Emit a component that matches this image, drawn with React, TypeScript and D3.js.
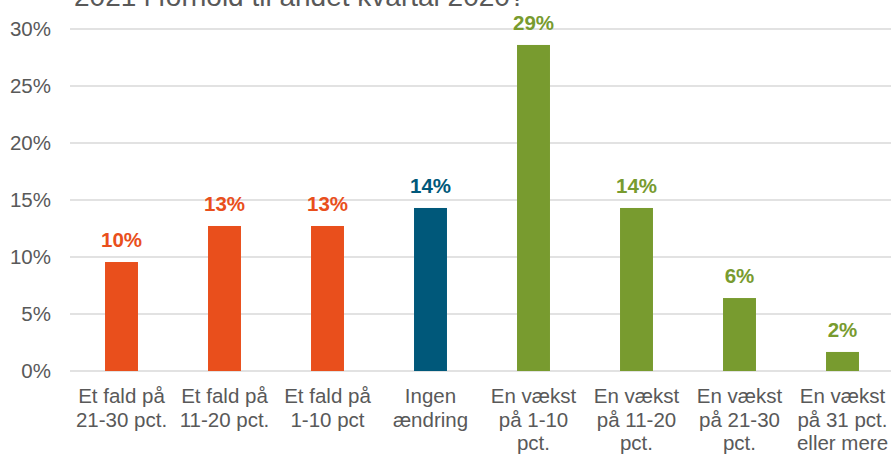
import * as d3 from "d3";

const categories = [
  ["Et fald på", "21-30 pct."],
  ["Et fald på", "11-20 pct."],
  ["Et fald på", "1-10 pct"],
  ["Ingen", "ændring"],
  ["En vækst", "på 1-10", "pct."],
  ["En vækst", "på 11-20", "pct."],
  ["En vækst", "på 21-30", "pct."],
  ["En vækst", "på 31 pct.", "eller mere"],
];
const values = [0.0956, 0.1272, 0.1272, 0.143, 0.286, 0.143, 0.064, 0.0167];
const groups = ["fald", "fald", "fald", "ingen", "vaekst", "vaekst", "vaekst", "vaekst"];
const yTicks = [0, 0.05, 0.1, 0.15, 0.2, 0.25, 0.3];
const title = "2021 i forhold til andet kvartal 2020?";

const COLORS: Record<string, string> = {
  fald: "#e94f1c",
  ingen: "#00587a",
  vaekst: "#789b2f",
};
const FONT = "'Liberation Sans', Arial, sans-serif";
const W = 891;
const H = 454;

export default function App() {
  const keys = categories.map((c, i) => `${i}`);
  const x = d3
    .scaleBand()
    .domain(keys)
    .range([70, 894])
    .paddingInner(0.68)
    .paddingOuter(0.34);
  const y = d3.scaleLinear().domain([0, 0.3]).range([371, 29]);
  const pct = d3.format(".0%");
  const tickFmt = d3.format(".0%");

  return (
    <svg
      width={W}
      height={H}
      style={{ position: "absolute", left: 0, top: 0, background: "#fff" }}
      fontFamily={FONT}
    >
      <text x={74} y={6} fontSize={28} fill="#595959">
        {title}
      </text>
      {yTicks.map((t) => (
        <g key={t}>
          <line
            x1={70}
            x2={W}
            y1={y(t)}
            y2={y(t)}
            stroke="#d9d9d9"
            strokeWidth={1.5}
          />
          <text
            x={51}
            y={y(t)}
            dy="0.35em"
            textAnchor="end"
            fontSize={20.5}
            fill="#595959"
          >
            {tickFmt(t)}
          </text>
        </g>
      ))}
      {values.map((v, i) => {
        const k = keys[i];
        const cx = x(k)! + x.bandwidth() / 2;
        const col = COLORS[groups[i]];
        return (
          <g key={k}>
            <rect
              x={x(k)}
              y={y(v)}
              width={x.bandwidth()}
              height={y(0) - y(v)}
              fill={col}
            />
            <text
              x={cx}
              y={y(v) - 15}
              textAnchor="middle"
              fontSize={20.5}
              fontWeight="bold"
              fill={col}
            >
              {pct(v)}
            </text>
            {categories[i].map((line, j) => (
              <text
                key={j}
                x={cx}
                y={403 + j * 23.7}
                textAnchor="middle"
                fontSize={20.5}
                fill="#595959"
              >
                {line}
              </text>
            ))}
          </g>
        );
      })}
    </svg>
  );
}
